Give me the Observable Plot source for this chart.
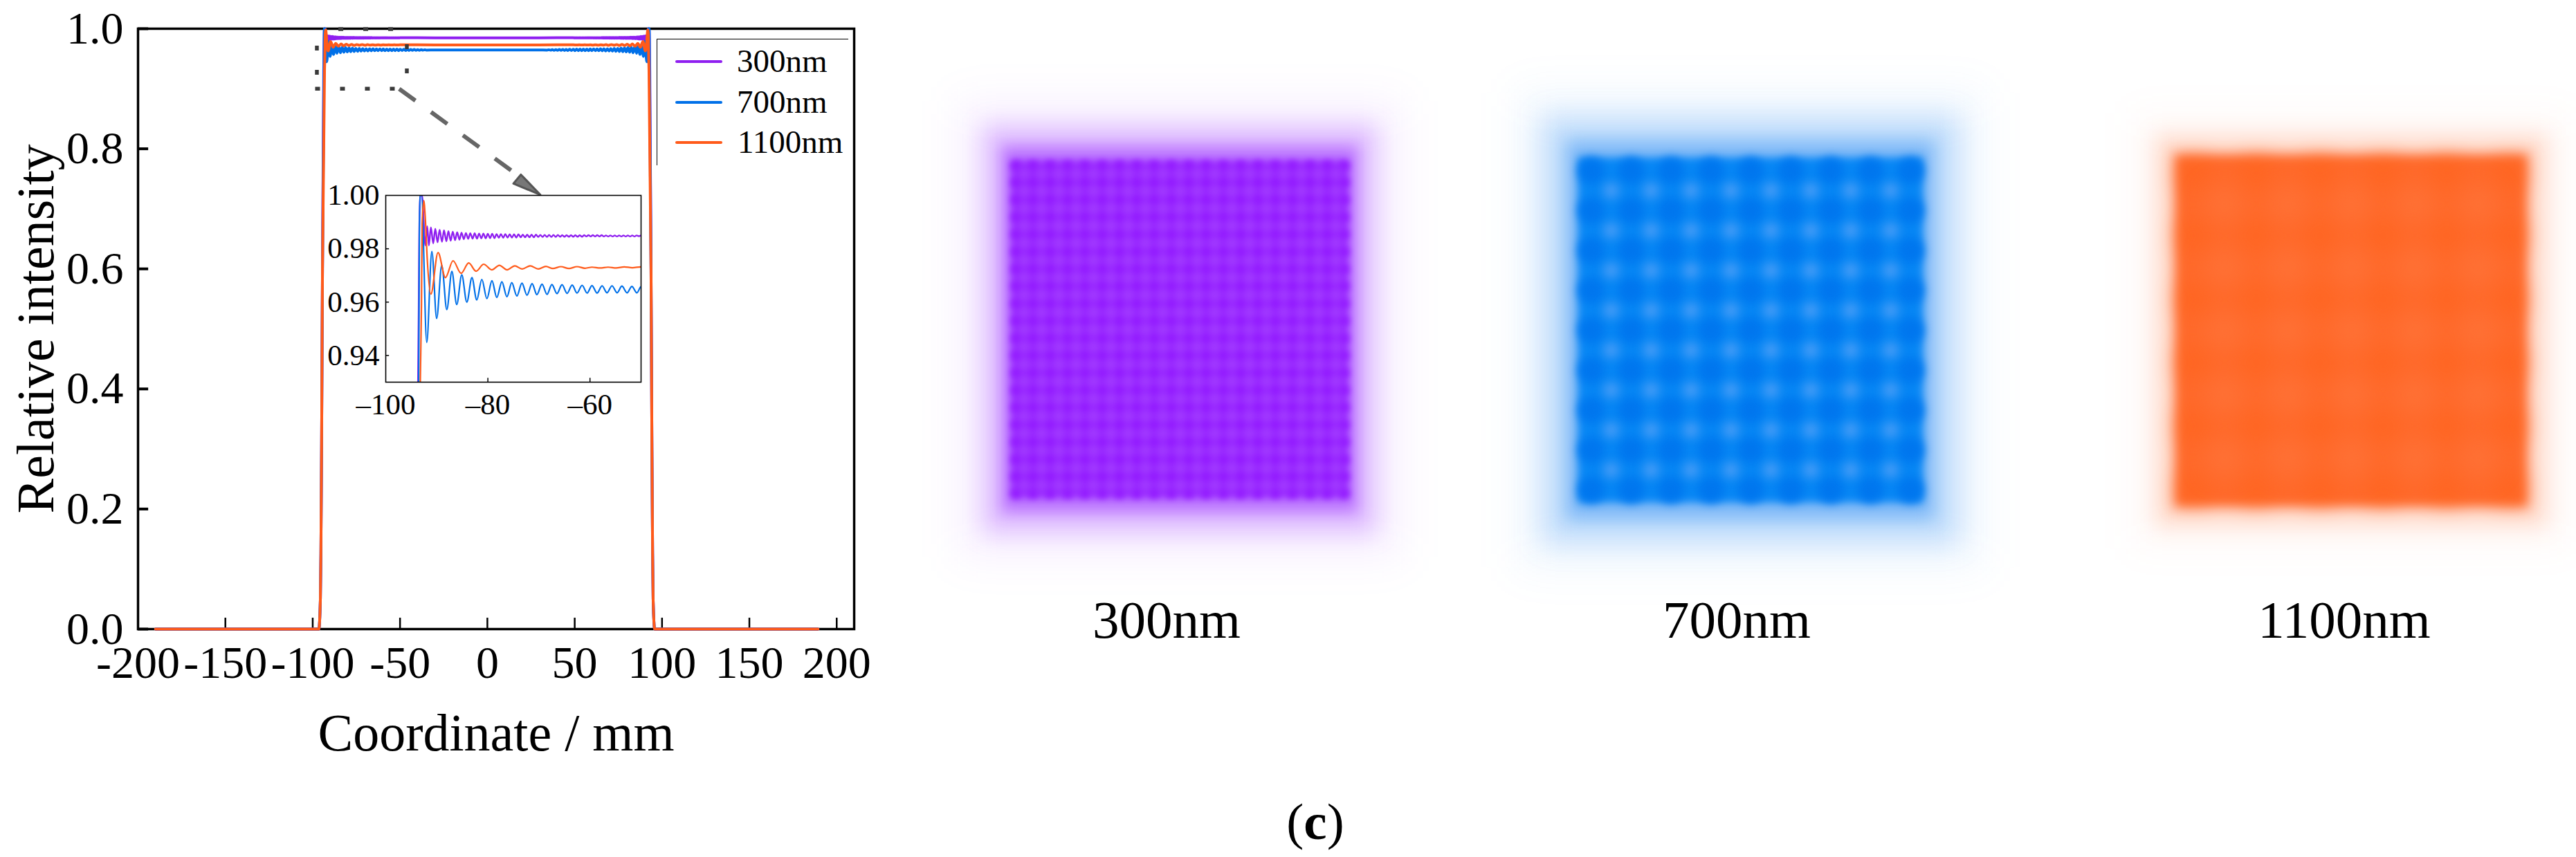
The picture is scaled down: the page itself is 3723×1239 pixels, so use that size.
<!DOCTYPE html>
<html>
<head>
<meta charset="utf-8">
<script src="https://cdn.jsdelivr.net/npm/d3@7"></script>
<script src="https://cdn.jsdelivr.net/npm/@observablehq/plot@0.6"></script>
<style>
html,body{margin:0;padding:0;background:#fff;}
#page{position:relative;width:3723px;height:1239px;overflow:hidden;background:#fff;font-family:"Liberation Serif",serif;color:#000;}
#page>div{position:absolute;}
.lbl{white-space:nowrap;line-height:1;}
</style>
</head>
<body>
<div id="page"></div>
<script>
// ---------- line profile: values ----------
const seriesNames = ["300nm", "700nm", "1100nm"];
const seriesColors = ["#8f1ff0", "#0070e8", "#ff5a1a"];

const footX = [-190, -96.5, -95.6, -95.3, -94.9, -94.4];
const footY = [0, 0, 0.05, 0.126, 0.31, 0.6];

const purpleX = [-93.68,-93.55,-93.46,-93.23,-92.9,-92.24,-91.88,
-91.56,-91.16,-90.70,-90.30,-89.85,-89.45,-88.99,-88.59,-88.13,-87.73,-87.28,-86.88,-86.42,-86.02,
-85.56,-85.16,-84.70,-84.30,-83.85,-83.45,-82.99,-82.59,-82.13,-81.73,-81.28,-80.88,-80.42,-80.02,
-79.56,-79.16,-78.70,-78.30,-77.85,-77.45,-76.99,-76.59,-76.13,-75.73,-75.28,-74.88,-74.42,-74.02,
-73.56,-73.16,-72.70,-72.30,-71.85,-71.45,-70.99,-70.59,-70.13,-69.73,-69.28,-68.88,-68.42,-68.02,
-67.56,-67.16,-66.70,-66.30,-65.85,-65.45,-64.99,-64.59,-64.13,-63.73,-63.28,-62.88,-62.42,-62.02,
-61.56,-61.16,-60.70,-60.30,-59.85,-59.45,-58.99,-58.59,-58.13,-57.73,-57.28,-56.88,-56.42,-56.02,
-55.56,-55.16,-54.70,-54.30,-53.85,-53.45,-52.99,-52.59,-52.13,-51.73,-51.28,-50.88,-50.42,-50,
-30,-0.35];
const purpleY = [0.93,0.9574,0.9833,1,1,0.9812,0.9885,
0.9812,0.9880,0.9820,0.9875,0.9824,0.9871,0.9826,0.9869,0.9828,0.9866,0.9830,0.9864,0.9832,0.9862,
0.9834,0.9860,0.9836,0.9859,0.9837,0.9858,0.9838,0.9858,0.9838,0.9857,0.9839,0.9857,0.9839,0.9856,
0.9840,0.9856,0.9840,0.9855,0.9841,0.9855,0.9841,0.9855,0.9842,0.9854,0.9842,0.9854,0.9842,0.9854,
0.9843,0.9853,0.9843,0.9853,0.9843,0.9853,0.9843,0.9853,0.9844,0.9852,0.9844,0.9852,0.9844,0.9852,
0.9844,0.9852,0.9844,0.9852,0.9845,0.9851,0.9845,0.9851,0.9845,0.9851,0.9845,0.9851,0.9845,0.9851,
0.9845,0.9851,0.9846,0.9851,0.9846,0.9851,0.9846,0.9851,0.9846,0.9851,0.9846,0.9850,0.9846,0.9850,
0.9846,0.9850,0.9846,0.9850,0.9846,0.9850,0.9846,0.9850,0.9846,0.9850,0.9846,0.9850,0.9847,0.9850,
0.9848,0.9848];

const blueX = [-93.55,-93.41,-93.32,-93.0,-91.97,-90.97,-90.03,-89.03,-88.04,-87.05,-86.10,-85.11,-84.12,-83.12,-82.18,-81.18,-80.19,-79.2,-78.25,-77.26,-76.26,-75.32,-74.32,-73.33,-72.34,-71.34,-70.4,-69.4,-68.41,-67.46,-66.47,-65.48,-64.49,-63.49,-62.55,-61.55,-60.56,-59.61,-58.62,-57.63,-56.68,-55.69,-54.69,-53.75,-52.75,-51.8,-50.81,-50,
-48.8,-47.8,-46.8,-45.8,-44.9,-43.9,-42.9,-41.9,-40.9,-39.9,-38.9,-37.9,-36.9,-35.9,-34.9,-30,-0.35];
const blueY = [0.93,0.985,1,1,0.9449,0.979,0.9539,0.9738,0.9572,0.9715,0.9591,0.9702,0.96,0.9692,0.9608,0.9685,0.9613,0.968,0.9617,0.9676,0.962,0.9673,0.9623,0.9671,0.9626,0.9669,0.9628,0.9667,0.9629,0.9666,0.9632,0.9665,0.9633,0.9664,0.9634,0.9663,0.9634,0.9662,0.9634,0.9661,0.9635,0.9661,0.9635,0.966,0.9635,0.9659,0.9635,0.9658,
0.9637,0.9656,0.9637,0.9655,0.9638,0.9654,0.9639,0.9653,0.964,0.9652,0.9641,0.9651,0.9642,0.965,0.9644,0.9646,0.9646];

const orangeX = [-93.23,-93.0,-92.87,-92.55,-92.24,-91.88,-91.16,-89.76,-88.31,-86.82,-85.24,-83.75,-82.31,-80.82,-79.24,-77.75,-76.22,-74.73,-73.29,-71.71,-70.13,-68.64,-67.28,-65.7,-64.12,-62.54,-60.97,-59.61,-58.03,-56.45,-54.87,-53.29,-51.71,-50,-30,-0.35];
const orangeY = [0.93,0.9591,0.9894,0.998,0.9911,0.9764,0.963,0.9786,0.9692,0.9755,0.9708,0.9747,0.9716,0.9742,0.9721,0.9738,0.9721,0.9736,0.9724,0.9736,0.9724,0.9734,0.9726,0.9733,0.9726,0.9733,0.9727,0.9731,0.9728,0.9731,0.9728,0.9732,0.9729,0.9732,0.973,0.973];

// ---------- axes ----------
const xTicks = [-200,-150,-100,-50,0,50,100,150,200];
const yTicks = [0,0.2,0.4,0.6,0.8,1];
const insetXTicks = [-100,-80,-60];
const insetYTicks = [0.94,0.96,0.98,1];

// ---------- annotation (zoom box and arrow) in data units ----------
const boxTop = [[-85.3,0.9993],[-53,0.9993]];
const boxBottom = [[-98.6,0.9],[-53,0.9]];
const boxLeft = [[-97.6,0.9717],[-97.6,0.9228]];
const boxRight = [[-46.1,0.974],[-46.1,0.925]];
const arrowShaft = [[-50.5,0.8998],[22.4,0.7454]];
const arrowHead = [[30.3,0.7235],[19.2,0.757],[14.9,0.742]];

// ---------- intensity maps, coordinates in mm ----------
const purpleLight = [-85.9,-76.3,-66.8,-57.2,-47.7,-38.2,-28.6,-19.1,-9.5,0,9.5,19.1,28.6,38.2,47.7,57.2,66.8,76.3,85.9];
const purpleDark = [-90.6,-81.1,-71.6,-62,-52.5,-42.9,-33.4,-23.9,-14.3,-4.8,4.8,14.3,23.9,33.4,42.9,52.5,62,71.6,81.1,90.6];
const blueLight = [-77,-55,-33,-11,11,33,55,77];
const blueDark = [-88,-66,-44,-22,0,22,44,66,88];
const orangeLight = [-70,-35,0,35,70];
const orangeDark = [-87,-52.5,-17.5,17.5,52.5,87];

const purpleLayers = [[122,126,0.07,30],[108,112,0.28,17],[98,101,0.5,10],[93,93,1,6]];
const blueLayers = [[128,131,0.07,30],[114,117,0.26,20],[101,104,0.45,12],[95,95,1,6]];
const orangeLayers = [[120,120,0.04,26],[108,108,0.2,15],[99,99,0.42,9],[96,96,1,7]];

const pageEl = document.getElementById("page");
const serif = "Liberation Serif";

function place(node, left, top) {
  const box = document.createElement("div");
  box.style.left = left + "px";
  box.style.top = top + "px";
  box.appendChild(node);
  pageEl.appendChild(box);
}
function label(html, cx, top, size) {
  const d = document.createElement("div");
  d.className = "lbl";
  d.innerHTML = html;
  d.style.cssText = `left:${cx}px;top:${top}px;font-size:${size}px;transform:translateX(-50%);`;
  pageEl.appendChild(d);
}

function seriesRows(xs, ys) {
  const left = footX.map((x,i)=>({x, y:footY[i]})).concat(xs.map((x,i)=>({x, y:ys[i]})));
  const right = left.slice().reverse().map(d=>({x:-0.7-d.x, y:d.y}));
  return left.concat(right);
}
const rows = [seriesRows(purpleX,purpleY), seriesRows(blueX,blueY), seriesRows(orangeX,orangeY)];
const pts = a => a.map(([x,y])=>({x,y}));

// ---------- main chart ----------
const dash = (a, arr) => Plot.line(pts(a), {x:"x", y:"y", stroke:"#3a3a3a", strokeWidth:5.5, strokeDasharray:arr, strokeLinecap:"butt"});
const main = Plot.plot({
  width:1300, height:1100,
  marginLeft:199, marginRight:66, marginTop:41, marginBottom:191,
  style:{background:"transparent", fontFamily:serif, overflow:"visible", maxWidth:"none"},
  x:{domain:[-200,210]},
  y:{domain:[0,1]},
  marks:[
    Plot.axisX(xTicks,{tickSize:0, tickPadding:24, fontSize:66, label:null, tickFormat:d=>String(d), fill:"#000"}),
    Plot.axisY(yTicks,{tickSize:0, tickPadding:21, fontSize:66, label:null, tickFormat:d=>d.toFixed(1), fill:"#000"}),
    Plot.ruleX(xTicks.slice(1),{y1:0, y2:0.0184, stroke:"#000", strokeWidth:2.5}),
    Plot.ruleY(yTicks,{x1:-200, x2:-194, stroke:"#000", strokeWidth:4}),
    Plot.frame({stroke:"#000", strokeWidth:3.5}),
    ...rows.map((r,i)=>Plot.line(r,{x:"x", y:"y", stroke:seriesColors[i], strokeWidth:4, curve:"monotone-x"})),
    dash(boxTop,"7 29"), dash(boxBottom,"7 29"), dash(boxLeft,"7 28"), dash(boxRight,"7 28"),
    Plot.line(pts(arrowShaft),{x:"x", y:"y", stroke:"#666", strokeWidth:6, strokeDasharray:"29 28", strokeLinecap:"butt"}),
    Plot.line(pts(arrowHead),{x:"x", y:"y", stroke:"#555", fill:"#777", strokeWidth:3, curve:"linear-closed"}),
    Plot.text(["Relative intensity"],{x:-200, y:0.5, dx:-147, rotate:-90, fontSize:76, fill:"#000"}),
    Plot.text(["Coordinate / mm"],{x:5, y:0, dy:151, fontSize:76, fill:"#000"})
  ]
});
place(main,0,0);

// ---------- inset ----------
const inset = Plot.plot({
  width:509, height:350,
  marginLeft:120, marginRight:20, marginTop:20, marginBottom:60,
  style:{background:"transparent", fontFamily:serif, overflow:"visible", maxWidth:"none"},
  x:{domain:[-100,-50]},
  y:{domain:[0.93,1]},
  marks:[
    Plot.axisX(insetXTicks,{tickSize:0, tickPadding:16, fontSize:43, label:null, tickFormat:d=>"\u2013"+Math.abs(d), fill:"#000"}),
    Plot.axisY(insetYTicks,{tickSize:0, tickPadding:9, fontSize:43, label:null, tickFormat:d=>d.toFixed(2), fill:"#000"}),
    Plot.ruleX(insetXTicks.slice(1),{y1:0.93, y2:0.9315, stroke:"#000", strokeWidth:1.5}),
    Plot.ruleY(insetYTicks.slice(0,3),{x1:-100, x2:-99.3, stroke:"#000", strokeWidth:1.5}),
    ...rows.map((r,i)=>Plot.line(r,{x:"x", y:"y", stroke:seriesColors[i], strokeWidth:i===0?2.4:2.2, curve:"monotone-x", clip:true})),
    Plot.frame({stroke:"#000", strokeWidth:1.6})
  ]
});
place(inset,437,262);

// ---------- legend ----------
const legend = document.createElement("div");
legend.style.cssText = "left:949px;top:56px;width:277px;height:183px;border-top:1.5px solid #000;border-left:1.5px solid #000;box-sizing:border-box;";
pageEl.appendChild(legend);
[89,148,206].forEach((top,i)=>{
  const ln = document.createElement("div");
  ln.style.cssText = `left:976px;top:${top-2}px;width:68px;height:4px;border-radius:2px;background:${seriesColors[i]};`;
  pageEl.appendChild(ln);
  const t = document.createElement("div");
  t.className = "lbl";
  t.textContent = seriesNames[i];
  t.style.cssText = `left:${i===2?1066:1065}px;top:${top-24}px;font-size:47px;`;
  pageEl.appendChild(t);
});

// ---------- maps ----------
function map(cx, cy, color, base, layers, lightPos, darkPos, lightColor, darkColor, lightR, darkR, blur) {
  const node = Plot.plot({
    width:708, height:708, margin:0,
    style:{background:"transparent", overflow:"visible", maxWidth:"none"},
    x:{domain:[-135,135], axis:null},
    y:{domain:[-135,135], axis:null},
    marks:[
      ...layers.map(([hx,hy,a,b],i)=>Plot.rect([{hx,hy}],{
        x1:d=>-d.hx, x2:d=>d.hx, y1:d=>-d.hy, y2:d=>d.hy,
        fill:i===layers.length-1?base:color, fillOpacity:a, imageFilter:`blur(${b}px)`})),
      Plot.dot(d3.cross(darkPos,darkPos).map(([x,y])=>({x,y})),{x:"x", y:"y", r:darkR, fill:darkColor, imageFilter:`blur(${blur}px)`}),
      Plot.dot(d3.cross(lightPos,lightPos).map(([x,y])=>({x,y})),{x:"x", y:"y", r:lightR, fill:lightColor, imageFilter:`blur(${blur}px)`})
    ]
  });
  place(node, cx-354, cy-354);
}
map(1705,476,"#9a30ff","#9a2bff",purpleLayers,purpleLight,purpleDark,"#a23bff","#9218ff",7,7,5);
map(2530,477,"#2a8cf5","#0787f5",blueLayers,blueLight,blueDark,"#409af6","#0076ee",12,19,7);
map(3398,478,"#ff6a2a","#ff6a2b",orangeLayers,orangeLight,orangeDark,"#ff7339","#ff6219",24,17,18);

label("300nm",1686,858,77);
label("700nm",2510,858,77);
label("1100nm",3388,858,77);
label("(<b>c</b>)",1901,1150,75);
</script>
</body>
</html>
